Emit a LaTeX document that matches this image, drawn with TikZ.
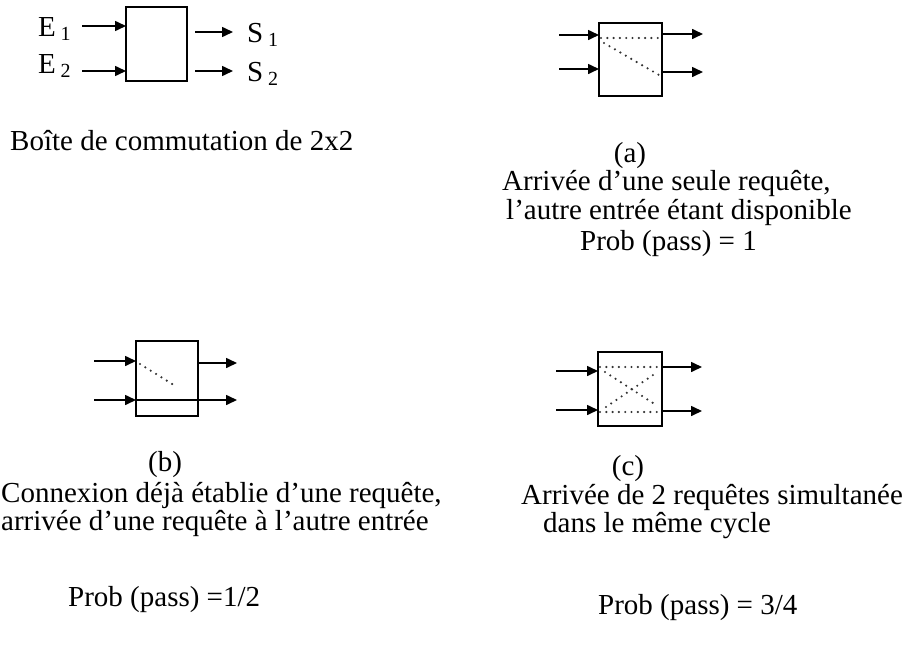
\documentclass[tikz,border=0pt]{standalone}
\usepackage{fontspec}
\setmainfont{Liberation Serif}
\usetikzlibrary{arrows.meta,calc}
\tikzset{
  BoxLine/.style={line width=2pt,color=black},
  WireArrow/.style={line width=1.6pt,-{Triangle[length=11pt,width=10pt]}},
  DotPath/.style={line width=2.4pt,line cap=round,dash pattern=on 0pt off 6.3pt,color=black!80},
  Lbl/.style={font=\fontsize{29}{29}\selectfont,inner sep=0pt},
}
\newcommand{\subidx}[1]{\,\raisebox{-4pt}{\fontsize{20}{20}\selectfont #1}}

\begin{document}
\begin{tikzpicture}[x=1pt,y=-1pt]
\useasboundingbox (0,0) rectangle (905,645);

% boite 2x2
\coordinate (K1) at (126,7);   \coordinate (K2) at (187,81);
\coordinate (KE1) at (82,26);  \coordinate (KI1) at (126,26);
\coordinate (KE2) at (82,71);  \coordinate (KI2) at (126,71);
\coordinate (KO1) at (195,32); \coordinate (KS1) at (233,32);
\coordinate (KO2) at (195,71); \coordinate (KS2) at (233,71);

% cas (a)
\coordinate (A1) at (599,23);  \coordinate (A2) at (662,96);
\coordinate (AE1) at (559,35); \coordinate (AI1) at (599,35);
\coordinate (AE2) at (559,69); \coordinate (AI2) at (599,69);
\coordinate (AO1) at (662,34); \coordinate (AS1) at (703,34);
\coordinate (AO2) at (662,72); \coordinate (AS2) at (703,72);

% cas (b)
\coordinate (B1) at (136,341); \coordinate (B2) at (198,416);
\coordinate (BE1) at (94,361); \coordinate (BI1) at (136,361);
\coordinate (BE2) at (94,400); \coordinate (BI2) at (136,400);
\coordinate (BO1) at (198,363); \coordinate (BS1) at (237,363);
\coordinate (BO2) at (198,400); \coordinate (BS2) at (237,400);

% cas (c)
\coordinate (C1) at (598,352); \coordinate (C2) at (662,426);
\coordinate (CE1) at (556,371); \coordinate (CI1) at (598,371);
\coordinate (CE2) at (556,410); \coordinate (CI2) at (598,410);
\coordinate (CO1) at (662,367); \coordinate (CS1) at (702,367);
\coordinate (CO2) at (662,411); \coordinate (CS2) at (702,411);

\draw[BoxLine] (K1) rectangle (K2);
\draw[BoxLine] (A1) rectangle (A2);
\draw[BoxLine] (B1) rectangle (B2);
\draw[BoxLine] (C1) rectangle (C2);

\foreach \p in {K,A,B,C}{
  \draw[WireArrow] (\p E1) -- (\p I1);
  \draw[WireArrow] (\p E2) -- (\p I2);
  \draw[WireArrow] (\p O1) -- (\p S1);
  \draw[WireArrow] (\p O2) -- (\p S2);
}

% connexions internes
\draw[DotPath] (601,38) -- (662,38);
\draw[DotPath] (604,43) -- (659,75);
\draw[DotPath] (140,364) -- (177,387);
\draw[BoxLine] (BI2) -- (BO2);
\draw[DotPath] (600,367) -- (662,367);
\draw[DotPath] (600,412) -- (662,412);
\draw[DotPath] (605,372) -- (656,405);
\draw[DotPath] (606,407) -- (656,373);

% textes
\node[Lbl,anchor=base west] (lE1) at (38,36) {E\subidx{1}};
\node[Lbl,anchor=base west] (lE2) at (38,73) {E\subidx{2}};
\node[Lbl,anchor=base west] (lS1) at (247,42) {S\subidx{1}};
\node[Lbl,anchor=base west] (lS2) at (247,81) {S\subidx{2}};
\node[Lbl,anchor=base west] (tK) at (10,150) {Boîte de commutation de 2x2};

\node[Lbl,anchor=base] (ta) at (630,162) {(a)};
\node[Lbl,anchor=base west] (ta1) at (502,190) {Arrivée d’une seule requête,};
\node[Lbl,anchor=base west] (ta2) at (506,219) {l’autre entrée étant disponible};
\node[Lbl,anchor=base west] (ta3) at (580,250) {Prob (pass) = 1};

\node[Lbl,anchor=base] (tb) at (165,471) {(b)};
\node[Lbl,anchor=base west] (tb1) at (1,502) {Connexion déjà établie d’une requête,};
\node[Lbl,anchor=base west] (tb2) at (1,530) {arrivée d’une requête à l’autre entrée};
\node[Lbl,anchor=base west] (tb3) at (68,606) {Prob (pass) =1/2};

\node[Lbl,anchor=base] (tc) at (628,475) {(c)};
\node[Lbl,anchor=base west] (tc1) at (521,504) {Arrivée de 2 requêtes simultanée};
\node[Lbl,anchor=base west] (tc2) at (543,532) {dans le même cycle};
\node[Lbl,anchor=base west] (tc3) at (598,614) {Prob (pass) = 3/4};
\end{tikzpicture}
\end{document}
